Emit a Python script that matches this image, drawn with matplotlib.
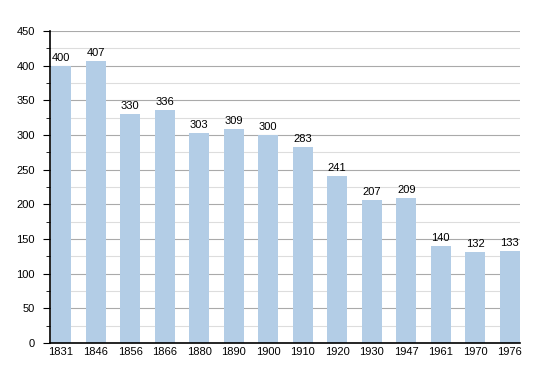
import matplotlib.pyplot as plt
from matplotlib.ticker import MultipleLocator

# annees a pocet obyvatel
years = ['1831', '1846', '1856', '1866', '1880', '1890', '1900',
         '1910', '1920', '1930', '1947', '1961', '1970', '1976']
population = [400, 407, 330, 336, 303, 309, 300, 283, 241, 207, 209, 140, 132, 133]

fig = plt.figure(figsize=(5.5, 3.73), dpi=100)
ax = fig.add_axes([0.091, 0.080, 0.854, 0.837])

x = range(len(years))
ax.bar(x, population, width=0.58, color='#b3cde6', zorder=2)

for xi, val in zip(x, population):
    ax.text(xi, val + 4, str(val), ha='center', va='bottom', fontsize=8,
            family='Liberation Sans', color='black')

ax.set_xlim(-0.32, len(years) - 1 + 0.29)
ax.set_ylim(0, 450)
ax.set_xticks(list(x))
ax.set_xticklabels(years)
ax.yaxis.set_major_locator(MultipleLocator(50))
ax.yaxis.set_minor_locator(MultipleLocator(25))

ax.grid(axis='y', which='major', color='#aaaaaa', linewidth=0.8, zorder=0)
ax.grid(axis='y', which='minor', color='#dddddd', linewidth=0.8, zorder=0)

for side in ['top', 'right']:
    ax.spines[side].set_visible(False)
ax.spines['left'].set_linewidth(1.2)
ax.spines['bottom'].set_linewidth(1.2)

ax.tick_params(axis='x', length=0, pad=3)
ax.tick_params(axis='y', which='major', length=5, pad=6)
ax.tick_params(axis='y', which='minor', length=3)
for lbl in ax.get_xticklabels() + ax.get_yticklabels():
    lbl.set_fontsize(8)
    lbl.set_family('Liberation Sans')

fig.savefig('out.png', dpi=100)
